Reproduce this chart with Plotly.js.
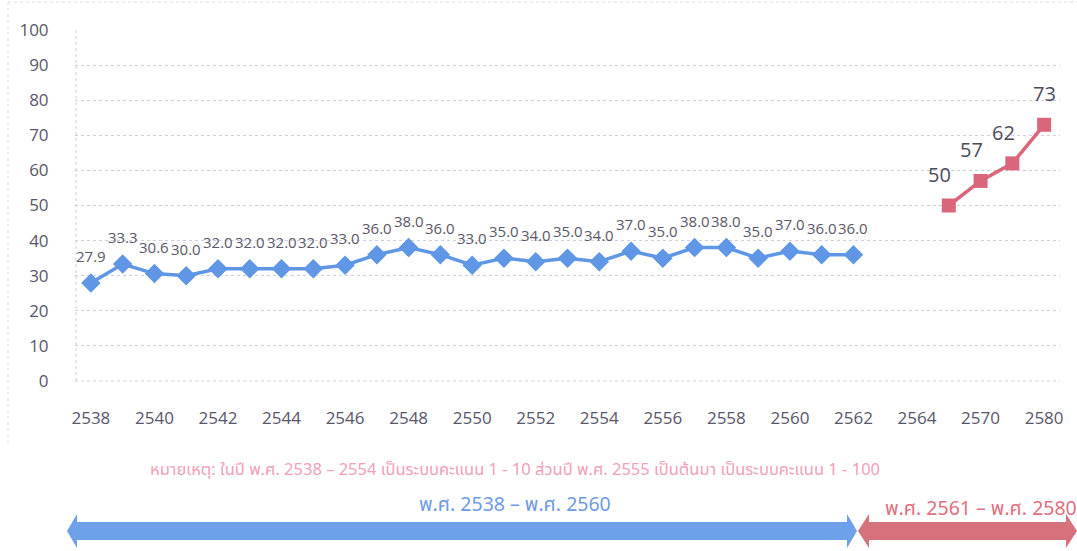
<!DOCTYPE html>
<html>
<head>
<meta charset="utf-8">
<script src="https://cdn.plot.ly/plotly-3.0.1.min.js"></script>
<style>html,body{margin:0;padding:0;background:#fff;}#chart{width:1077px;height:551px;}</style>
</head>
<body>
<div id="chart"></div>
<script>
// ---- data ----
var categories = ["2538","2539","2540","2541","2542","2543","2544","2545","2546","2547","2548","2549","2550","2551","2552","2553","2554","2555","2556","2557","2558","2559","2560","2561","2562","2563","2564","2565","2570","2575","2580"];
var tickLabels = ["2538","2540","2542","2544","2546","2548","2550","2552","2554","2556","2558","2560","2562","2564","2570","2580"];
var pastYears = ["2538","2539","2540","2541","2542","2543","2544","2545","2546","2547","2548","2549","2550","2551","2552","2553","2554","2555","2556","2557","2558","2559","2560","2561","2562"];
var pastScores = [27.9,33.3,30.6,30.0,32.0,32.0,32.0,32.0,33.0,36.0,38.0,36.0,33.0,35.0,34.0,35.0,34.0,37.0,35.0,38.0,38.0,35.0,37.0,36.0,36.0];
var targetYears = ["2565","2570","2575","2580"];
var targetScores = [50,57,62,73];
var noteText = "หมายเหตุ: ในปี พ.ศ. 2538 – 2554 เป็นระบบคะแนน 1 - 10 ส่วนปี พ.ศ. 2555 เป็นต้นมา เป็นระบบคะแนน 1 - 100";
var bluePeriod = "พ.ศ. 2538 – พ.ศ. 2560";
var redPeriod = "พ.ศ. 2561 – พ.ศ. 2580";

// ---- layout helpers ----
var W = 1077, H = 551;
var M = {l: 75, r: 17, t: 30, b: 170};
var pw = W - M.l - M.r, ph = H - M.t - M.b;
function px(x){ return ((x - M.l) / pw).toFixed(5); }
function py(y){ return ((H - M.b - y) / ph).toFixed(5); }
function path(pts){
  return "M" + pts.map(function(p){ return px(p[0]) + "," + py(p[1]); }).join(" L") + " Z";
}
function dblArrow(x0, x1, yc, head, bodyHalf, headHalf){
  return path([
    [x0, yc], [x0 + head, yc - headHalf], [x0 + head, yc - bodyHalf],
    [x1 - head, yc - bodyHalf], [x1 - head, yc - headHalf], [x1, yc],
    [x1 - head, yc + headHalf], [x1 - head, yc + bodyHalf],
    [x0 + head, yc + bodyHalf], [x0 + head, yc + headHalf]
  ]);
}
function catIndex(c){ return categories.indexOf(c); }

var fontFam = "'Open Sans', 'Noto Sans', sans-serif";
var thaiFam = "'Noto Sans Thai', 'Noto Sans', Tahoma, sans-serif";

var traces = [
  {
    x: pastYears, y: pastScores, type: "scatter", mode: "lines+markers",
    line: {color: "#5f97e6", width: 3.5},
    marker: {symbol: "diamond", size: 15, color: "#5f97e6"},
    cliponaxis: false, hoverinfo: "x+y"
  },
  {
    x: targetYears, y: targetScores, type: "scatter", mode: "lines+markers",
    line: {color: "#d9667a", width: 3.5},
    marker: {symbol: "square", size: 14, color: "#d9667a"},
    cliponaxis: false, hoverinfo: "x+y"
  }
];

var labelAnns = [];
pastYears.forEach(function(yr, i){
  labelAnns.push({x: catIndex(yr), y: pastScores[i], xref: "x", yref: "y", text: pastScores[i].toFixed(1),
    showarrow: false, xanchor: "center", yanchor: "middle", yshift: 27,
    font: {family: fontFam, size: 15, color: "#5a5868"}});
});
targetYears.forEach(function(yr, i){
  labelAnns.push({x: catIndex(yr), y: targetScores[i], xref: "x", yref: "y", text: String(targetScores[i]),
    showarrow: false, xanchor: "center", yanchor: "middle", yshift: 31,
    xshift: (i < targetYears.length - 1) ? -9 : 0,
    font: {family: fontFam, size: 20, color: "#4d4b5a"}});
});

var layout = {
  width: W, height: H,
  margin: M,
  paper_bgcolor: "#fff", plot_bgcolor: "#fff",
  showlegend: false,
  xaxis: {
    type: "category", categoryorder: "array", categoryarray: categories,
    range: [-0.5, categories.length - 0.5],
    tickmode: "array", tickvals: tickLabels, ticktext: tickLabels,
    showgrid: false, zeroline: false, showline: false,
    ticks: "outside", ticklen: 22, tickcolor: "rgba(0,0,0,0)",
    tickfont: {family: fontFam, size: 17, color: "#58566a"}
  },
  yaxis: {
    range: [0, 100], tickmode: "linear", tick0: 0, dtick: 10,
    showgrid: true, gridcolor: "#cfcde2", griddash: "dot", gridwidth: 1,
    zeroline: false, showline: false,
    ticks: "outside", ticklen: 22, tickcolor: "rgba(0,0,0,0)",
    tickfont: {family: fontFam, size: 17, color: "#58566a"}
  },
  shapes: [
    {type: "line", xref: "paper", yref: "paper", x0: 0, x1: 1, y0: 0, y1: 0,
     line: {color: "#cfcde2", width: 1, dash: "dot"}},
    {type: "line", xref: "paper", yref: "paper", x0: px(76), x1: px(76), y0: 0, y1: 1,
     line: {color: "#cfcde2", width: 1, dash: "dot"}},
    {type: "line", xref: "paper", yref: "paper", x0: px(8), x1: px(8), y0: py(2), y1: py(445),
     line: {color: "#dddbe8", width: 1, dash: "dot"}},
    {type: "line", xref: "paper", yref: "paper", x0: px(8), x1: px(1077), y0: py(2), y1: py(2),
     line: {color: "#dddbe8", width: 1, dash: "dot"}},
    {type: "path", xref: "paper", yref: "paper", path: dblArrow(67, 857, 531, 10, 9, 17),
     fillcolor: "#6fa0ea", line: {width: 0}},
    {type: "path", xref: "paper", yref: "paper", path: dblArrow(858, 1077, 531, 11, 9, 17),
     fillcolor: "#d5727c", line: {width: 0}}
  ],
  annotations: labelAnns.concat([
    {xref: "paper", yref: "paper", x: px(515), y: py(470), text: noteText, showarrow: false,
     xanchor: "center", yanchor: "middle", font: {family: thaiFam, size: 16.5, color: "#f2a0ba"}},
    {xref: "paper", yref: "paper", x: px(515), y: py(505), text: bluePeriod, showarrow: false,
     xanchor: "center", yanchor: "middle", font: {family: thaiFam, size: 19.5, color: "#6f9ae8"}},
    {xref: "paper", yref: "paper", x: px(981), y: py(509), text: redPeriod, showarrow: false,
     xanchor: "center", yanchor: "middle", font: {family: thaiFam, size: 19.5, color: "#e0707f"}}
  ])
};

Plotly.newPlot("chart", traces, layout, {displayModeBar: false, staticPlot: true});
</script>
</body>
</html>
